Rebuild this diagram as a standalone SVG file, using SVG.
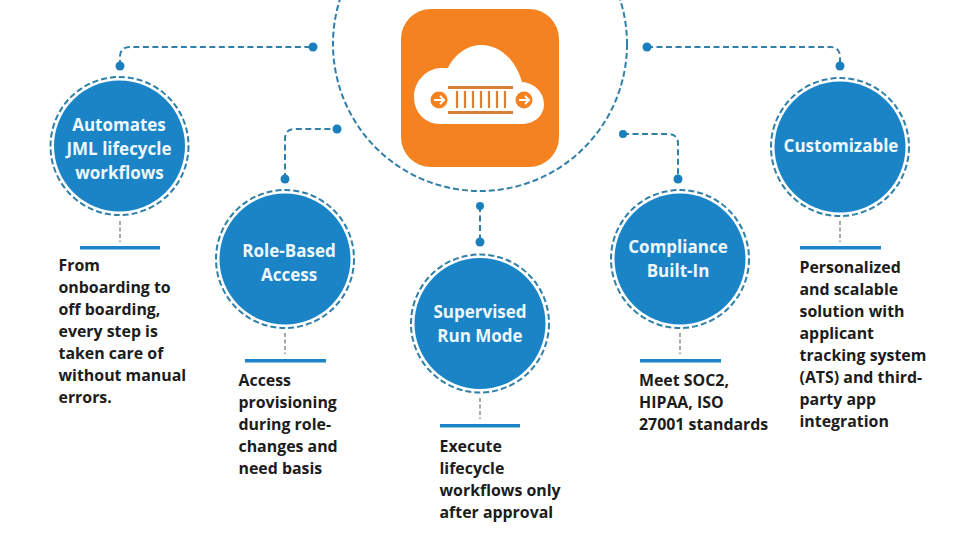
<svg xmlns="http://www.w3.org/2000/svg" width="960" height="540" viewBox="0 0 960 540">
<style>
.disc{fill:#1a84c7}
.ring{fill:none;stroke:#2f7fa8;stroke-width:2;stroke-dasharray:6 3}
.link{fill:none;stroke:#2f7fa8;stroke-width:2;stroke-dasharray:6 3.5}
.dot{fill:#1b7fbd}
.stem{fill:none;stroke:#a8a8a8;stroke-width:2;stroke-dasharray:4 2.5}
.bar{fill:#1a84c7}
.t{font-family:"Open Sans","Noto Sans",sans-serif;font-weight:700}
.h{font-size:17px;fill:#eef8fd;text-anchor:middle}
.b{font-size:15.9px;fill:#1c1c1c}
</style>
<rect width="960" height="540" fill="#ffffff"/>
<g id="connectors">
<circle class="ring" cx="480" cy="44" r="147"/>
<path class="link" d="M120 66V57Q120 47 130 47H313"/>
<circle class="dot" cx="120" cy="66" r="4.5"/><circle class="dot" cx="313" cy="47" r="4.5"/>
<path class="link" d="M285 179V139Q285 129 295 129H337"/>
<circle class="dot" cx="285" cy="179" r="4.5"/><circle class="dot" cx="337" cy="129" r="4.5"/>
<path class="link" d="M480 206V242"/>
<circle class="dot" cx="480" cy="206" r="4"/><circle class="dot" cx="480" cy="242" r="4.5"/>
<path class="link" d="M623 134H668Q678 134 678 144V179"/>
<circle class="dot" cx="623" cy="134" r="4"/><circle class="dot" cx="678" cy="179" r="4.5"/>
<path class="link" d="M647 47H830Q840 47 840 57V66"/>
<circle class="dot" cx="647" cy="47" r="4.5"/><circle class="dot" cx="840" cy="66" r="4.5"/>
<path class="stem" d="M120 221V242"/>
<path class="stem" d="M285 333V354"/>
<path class="stem" d="M480 398V419"/>
<path class="stem" d="M680 333V354"/>
<path class="stem" d="M840 221V242"/>
</g>
<g id="logo">
<rect x="401" y="9" width="158" height="158" rx="30" fill="#f58220"/>
<path d="M440 124C425 124 414 112 414 97C414 80 428 68 441 68Q445 68 448 68C454 55 467 45 481 45C501 45 516 61 522 82C535 83 544 93 544 104C544 115 535 124 522 124Z" fill="#ffffff"/>
<rect x="448" y="86" width="65" height="3" fill="#d98038"/>
<rect x="448" y="111" width="65" height="3" fill="#d98038"/>
<path d="M457 91V108M465 91V108M473 91V108M481 91V108M489 91V108M497 91V108M505 91V108" stroke="#d98038" stroke-width="2.2" fill="none"/>
<circle cx="439" cy="100" r="8.5" fill="#f58220"/>
<circle cx="524" cy="100" r="8.5" fill="#f58220"/>
<path d="M434 100H443M440 96L444 100L440 104M519 100H528M525 96L529 100L525 104" stroke="#ffffff" stroke-width="2" fill="none"/>
</g>
<g id="node-1">
<circle class="disc" cx="119.500" cy="146" r="65.500"/><circle class="ring" cx="119.500" cy="146" r="69"/>
<text class="t h" x="119" y="131">Automates</text><text class="t h" x="119" y="155">JML lifecycle</text><text class="t h" x="119.500" y="179">workflows</text>
<rect class="bar" x="80" y="246" width="80" height="3.500"/>
<text class="t b"><tspan x="58.500" y="271">From</tspan><tspan x="58.500" y="293">onboarding to</tspan><tspan x="58.500" y="315">off boarding,</tspan><tspan x="58.500" y="337">every step is</tspan><tspan x="58.500" y="359">taken care of</tspan><tspan x="58.500" y="381">without manual</tspan><tspan x="58.500" y="403">errors.</tspan></text>
</g>
<g id="node-2">
<circle class="disc" cx="285" cy="259" r="65.500"/><circle class="ring" cx="285" cy="259" r="69"/>
<text class="t h" x="289" y="257">Role-Based</text><text class="t h" x="289" y="281">Access</text>
<rect class="bar" x="245" y="359" width="81" height="3.500"/>
<text class="t b"><tspan x="238.500" y="386">Access</tspan><tspan x="238.500" y="408">provisioning</tspan><tspan x="238.500" y="430">during role-</tspan><tspan x="238.500" y="452">changes and</tspan><tspan x="238.500" y="474">need basis</tspan></text>
</g>
<g id="node-3">
<circle class="disc" cx="480" cy="323.500" r="65.500"/><circle class="ring" cx="480" cy="323.500" r="69"/>
<text class="t h" x="480" y="318">Supervised</text><text class="t h" x="480" y="342">Run Mode</text>
<rect class="bar" x="440" y="424" width="80" height="3.500"/>
<text class="t b"><tspan x="439.500" y="452">Execute</tspan><tspan x="439.500" y="474">lifecycle</tspan><tspan x="439.500" y="496">workflows only</tspan><tspan x="439.500" y="518">after approval</tspan></text>
</g>
<g id="node-4">
<circle class="disc" cx="680" cy="259" r="65.500"/><circle class="ring" cx="680" cy="259" r="69"/>
<text class="t h" x="678" y="253">Compliance</text><text class="t h" x="678" y="277">Built-In</text>
<rect class="bar" x="640" y="359" width="81" height="3.500"/>
<text class="t b"><tspan x="639" y="386">Meet SOC2,</tspan><tspan x="639" y="408">HIPAA, ISO</tspan><tspan x="639" y="430">27001 standards</tspan></text>
</g>
<g id="node-5">
<circle class="disc" cx="840" cy="147" r="65.500"/><circle class="ring" cx="840" cy="147" r="69"/>
<text class="t h" x="841" y="152">Customizable</text>
<rect class="bar" x="800" y="246" width="81" height="3.500"/>
<text class="t b"><tspan x="799.500" y="273">Personalized</tspan><tspan x="799.500" y="295">and scalable</tspan><tspan x="799.500" y="317">solution with</tspan><tspan x="799.500" y="339">applicant</tspan><tspan x="799.500" y="361">tracking system</tspan><tspan x="799.500" y="383">(ATS) and third-</tspan><tspan x="799.500" y="405">party app</tspan><tspan x="799.500" y="427">integration</tspan></text>
</g>
</svg>
